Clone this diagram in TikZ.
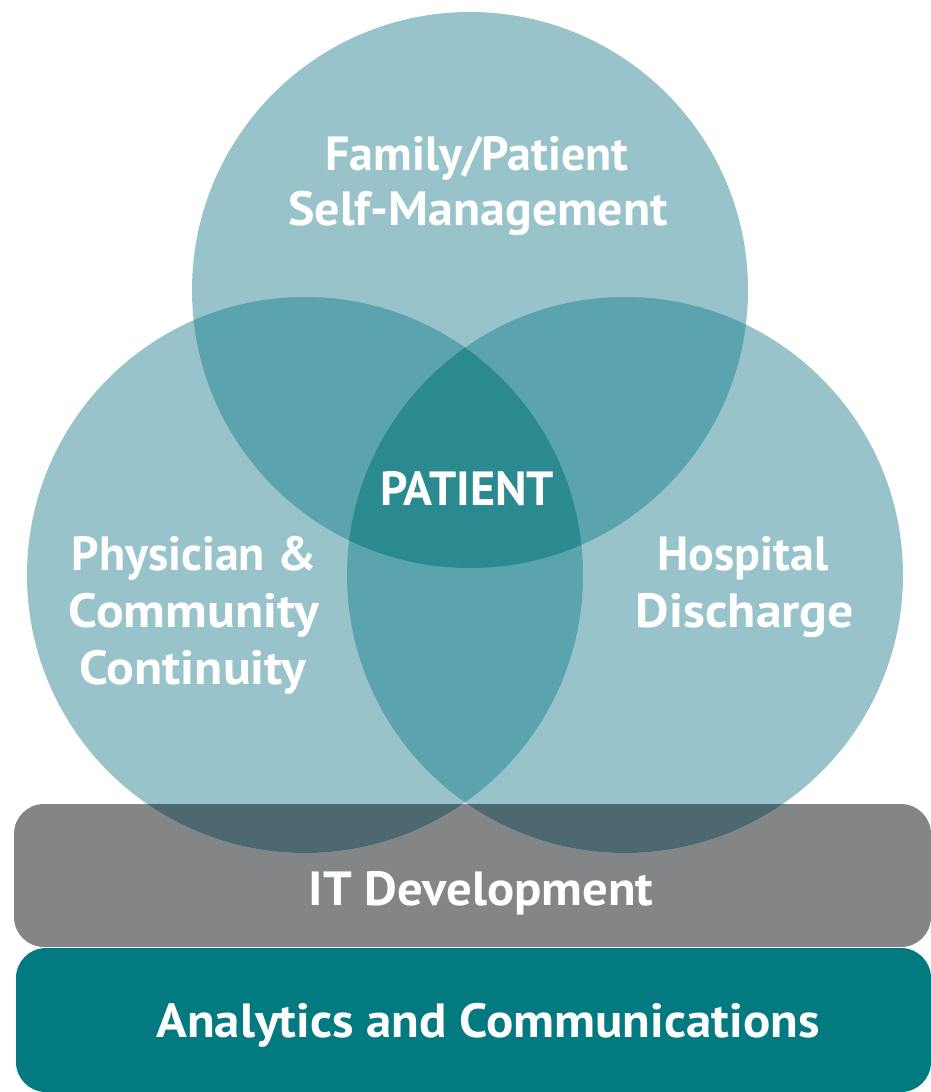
\documentclass[tikz,border=0pt]{standalone}
\usepackage{fontspec}
\setmainfont{PT Sans}
\definecolor{single}{HTML}{99C3CB}
\definecolor{pair}{HTML}{5BA3AD}
\definecolor{triple}{HTML}{2A8A90}
\definecolor{overgray}{HTML}{4E6870}
\definecolor{barGray}{HTML}{848587}
\definecolor{barTeal}{HTML}{037A80}
\begin{document}
\begin{tikzpicture}[x=1pt,y=-1pt,
  lbl/.style={text=white,font=\bfseries\fontsize{48}{57}\selectfont,align=center,inner sep=0pt,anchor=base},
  barlbl/.style={text=white,font=\bfseries\fontsize{48}{57}\selectfont,inner sep=0pt,anchor=base}]
\useasboundingbox (0,0) rectangle (931,1092);
\def\rr{278}
\coordinate (T) at (470,290);
\coordinate (L) at (305,575);
\coordinate (R) at (625,575);
% bars
\fill[barGray, rounded corners=30] (14,804) rectangle (931,947);
\fill[barTeal, rounded corners=30] (16,948) rectangle (931,1092);
% circles
\fill[single] (T) circle (\rr);
\fill[single] (L) circle (\rr);
\fill[single] (R) circle (\rr);
\begin{scope}\clip (T) circle (\rr); \fill[pair] (L) circle (\rr); \fill[pair] (R) circle (\rr); \end{scope}
\begin{scope}\clip (L) circle (\rr); \fill[pair] (R) circle (\rr); \end{scope}
\begin{scope}\clip (T) circle (\rr); \clip (L) circle (\rr); \fill[triple] (R) circle (\rr); \end{scope}
\begin{scope}\clip (14,804) rectangle (931,947); \fill[overgray] (L) circle (\rr); \fill[overgray] (R) circle (\rr); \end{scope}
% labels
\node[lbl] (fam) at (477,170) {Family/Patient};
\node[lbl, xscale=1.04] (self) at (478,225) {Self-Management};
\node[lbl] (pat) at (467,505) {PATIENT};
\node[lbl] (phys) at (194,570) {Physician \&};
\node[lbl, xscale=1.08] (comm) at (194,627) {Community};
\node[lbl, xscale=1.08] (cont) at (193,684) {Continuity};
\node[lbl] (hosp) at (743,570) {Hospital};
\node[lbl, xscale=1.08] (disc) at (745,627) {Discharge};
\node[barlbl, xscale=1.055] (it) at (481,905) {IT Development};
\node[barlbl, xscale=1.06] (ana) at (488,1037) {Analytics and Communications};
\end{tikzpicture}
\end{document}
